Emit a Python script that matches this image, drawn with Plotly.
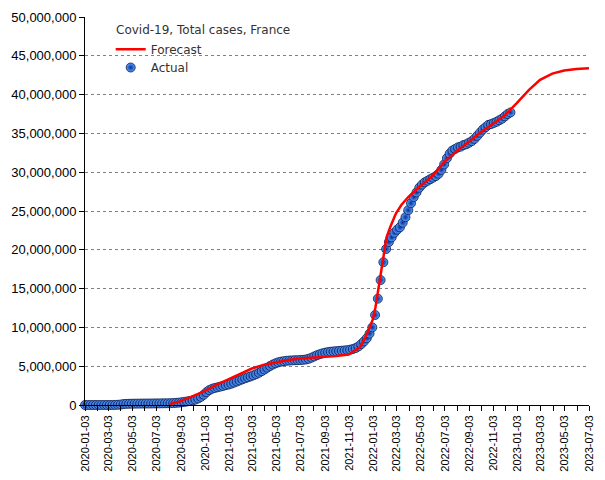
import pandas as pd
import plotly.graph_objects as go

# ---- Data (millions of cases) ----
actual_start = "2020-01-03"   # weekly observations
actual_values_m = [
    0, 0, 0, 0, 0, 0, 0, 0, 0.0001,
    0.0004, 0.004, 0.013, 0.033, 0.065, 0.125, 0.15, 0.16, 0.17, 0.175,
    0.18, 0.182, 0.186, 0.19, 0.193, 0.196, 0.2, 0.204, 0.208, 0.212,
    0.218, 0.226, 0.236, 0.252, 0.276, 0.306, 0.35, 0.4, 0.46, 0.53,
    0.6, 0.7, 0.85, 1.05, 1.33, 1.66, 1.92, 2.09, 2.2, 2.28,
    2.37, 2.46, 2.56, 2.64, 2.75, 2.89, 3.03, 3.17, 3.32, 3.45,
    3.57, 3.69, 3.83, 3.98, 4.16, 4.36, 4.58, 4.81, 5.03, 5.22,
    5.38, 5.5, 5.59, 5.65, 5.7, 5.73, 5.75, 5.77, 5.78, 5.8,
    5.82, 5.87, 5.96, 6.1, 6.26, 6.42, 6.55, 6.66, 6.75, 6.82,
    6.87, 6.91, 6.94, 6.97, 7.0, 7.03, 7.07, 7.13, 7.22, 7.35,
    7.55, 7.85, 8.2, 8.6, 9.2, 10.0, 11.6, 13.7, 16.1, 18.4,
    20.1, 21.0, 21.6, 22.2, 22.6, 22.9, 23.5, 24.2, 25.1, 26.0,
    26.8, 27.4, 28.0, 28.4, 28.7, 28.9, 29.1, 29.3, 29.5, 29.8,
    30.3, 31.0, 31.8, 32.4, 32.8, 33.0, 33.2, 33.3, 33.5, 33.6,
    33.8, 34.0, 34.3, 34.7, 35.1, 35.5, 35.8, 36.1, 36.2, 36.35,
    36.5, 36.7, 36.9, 37.2, 37.5, 37.7,
]
actual_dates = pd.date_range(actual_start, periods=len(actual_values_m), freq="7D")

forecast_dates = [
    "2020-08-05", "2020-09-01", "2020-10-01", "2020-11-01", "2020-12-01",
    "2021-01-01", "2021-02-01", "2021-03-01", "2021-04-01", "2021-05-01",
    "2021-06-01", "2021-07-01", "2021-08-01", "2021-09-01", "2021-10-01",
    "2021-11-01", "2021-12-01", "2021-12-15", "2022-01-01", "2022-01-08",
    "2022-01-15", "2022-01-22", "2022-01-29", "2022-02-05", "2022-02-15",
    "2022-03-01", "2022-03-15", "2022-04-01", "2022-05-01", "2022-06-01",
    "2022-07-01", "2022-08-01", "2022-09-01", "2022-10-01", "2022-11-01",
    "2022-12-01", "2023-01-01", "2023-02-01", "2023-03-01", "2023-04-01",
    "2023-05-01", "2023-06-01", "2023-07-03",
]
forecast_values_m = [
    0.1, 0.5, 1.1, 1.8, 2.6,
    3.3, 4.1, 4.7, 5.2, 5.5,
    5.8, 6.0, 6.1, 6.2, 6.3,
    6.5, 7.5, 8.9, 11.0, 12.6,
    14.8, 17.4, 19.8, 21.6, 23.0,
    24.7, 25.8, 26.8, 28.2, 29.5,
    31.3, 32.7, 33.9, 35.1, 36.2,
    37.3, 38.9, 40.6, 41.9, 42.7,
    43.1, 43.3, 43.4,
]

x_tick_labels = [
    "2020-01-03", "2020-03-03", "2020-05-03", "2020-07-03", "2020-09-03", "2020-11-03",
    "2021-01-03", "2021-03-03", "2021-05-03", "2021-07-03", "2021-09-03", "2021-11-03",
    "2022-01-03", "2022-03-03", "2022-05-03", "2022-07-03", "2022-09-03", "2022-11-03",
    "2023-01-03", "2023-03-03", "2023-05-03", "2023-07-03",
]
y_tick_values = [0, 5e6, 10e6, 15e6, 20e6, 25e6, 30e6, 35e6, 40e6, 45e6, 50e6]

legend_title = "Covid-19, Total cases, France"

# ---- Figure ----
fig = go.Figure()
fig.add_trace(go.Scatter(
    x=actual_dates, y=[v * 1e6 for v in actual_values_m],
    mode="markers", name="Actual", legend="legend2", cliponaxis=False,
    marker=dict(size=9, color="#5aa6ff",
                gradient=dict(type="radial", color="#0a2a9a"),
                line=dict(color="#071650", width=0.8)),
))
fig.add_trace(go.Scatter(
    x=pd.to_datetime(forecast_dates), y=[v * 1e6 for v in forecast_values_m],
    mode="lines", name="Forecast", legend="legend",
    line=dict(color="#ff0000", width=2.5),
))

axis_font = dict(family="Liberation Sans, Arial, sans-serif", size=13, color="black")
legend_font = dict(family="DejaVu Sans", size=12, color="#333333")

# page body has an 8px margin; figure is sized so the plot area sits where the reference's does
fig.update_layout(
    width=589, height=464,
    margin=dict(l=77, r=8, t=9, b=67),
    paper_bgcolor="white", plot_bgcolor="white",
    showlegend=True,
    legend=dict(
        x=0.051, y=0.954, xanchor="left", yanchor="top",
        bgcolor="rgba(0,0,0,0)", font=legend_font,
    ),
    legend2=dict(
        x=0.051, y=0.9072, xanchor="left", yanchor="top",
        bgcolor="rgba(0,0,0,0)", font=legend_font,
    ),
    xaxis=dict(
        type="date", automargin=False,
        range=[x_tick_labels[0], x_tick_labels[-1]],
        tickmode="array", tickvals=x_tick_labels, ticktext=x_tick_labels,
        tickangle=-90, tickfont=dict(family="Liberation Sans, Arial, sans-serif", size=11, color="black"),
        showline=True, linecolor="black", linewidth=1,
        ticks="outside", ticklen=5, tickcolor="black",
        showgrid=False, zeroline=False,
        minor=dict(tickmode="linear", tick0="2020-01-03", dtick="M1",
                   ticks="outside", ticklen=5, tickcolor="black", showgrid=False),
    ),
    yaxis=dict(
        range=[0, 50e6], automargin=False,
        tickmode="array", tickvals=y_tick_values, tickformat=",d",
        tickfont=axis_font,
        showline=True, linecolor="black", linewidth=1,
        ticks="outside", ticklen=5, tickcolor="black",
        showgrid=True, gridcolor="#808080", gridwidth=1, griddash="3px,3px",
        zeroline=False,
    ),
    annotations=[dict(
        text=legend_title, xref="paper", yref="paper",
        x=29 / 504, y=1 - 13 / 388, xanchor="left", yanchor="middle",
        showarrow=False, font=legend_font,
    )],
)

fig.write_html("out.html")
